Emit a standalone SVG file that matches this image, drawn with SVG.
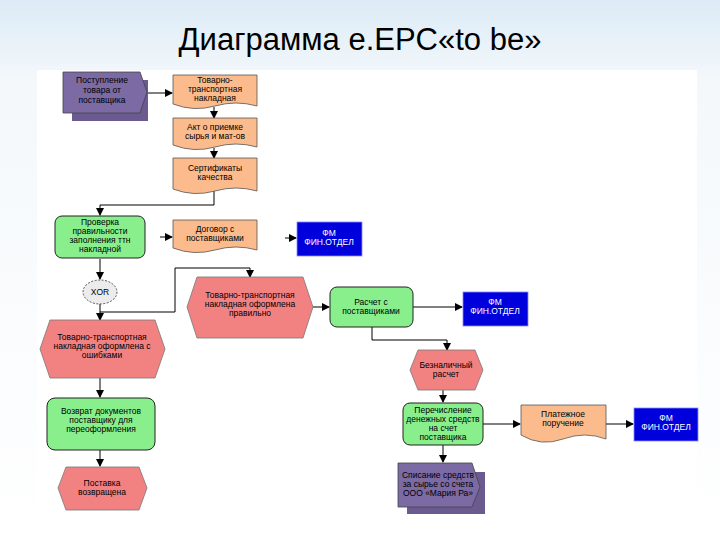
<svg xmlns="http://www.w3.org/2000/svg" width="720" height="540" viewBox="0 0 720 540">
<defs>
<linearGradient id="bg" x1="0" y1="0" x2="0" y2="1"><stop offset="0" stop-color="#dcebf6"/><stop offset="0.15" stop-color="#f4f8fb"/><stop offset="1" stop-color="#ffffff"/></linearGradient>
<marker id="ah" markerWidth="8" markerHeight="8" refX="7" refY="4" orient="auto" markerUnits="userSpaceOnUse"><path d="M0,0 L8,4 L0,8 z" fill="#000"/></marker>
<style>
text{font-family:"Liberation Sans",Arial,sans-serif;font-size:8.5px;text-anchor:middle;fill:#000}
.t{font-size:31px;fill:#000;font-family:"Liberation Sans",Arial,sans-serif}
.doc{fill:#fbbb8c;stroke:#555;stroke-width:0.8}
.fn{fill:#88ef8c;stroke:#222;stroke-width:1}
.ev{fill:#f28282;stroke:#777;stroke-width:0.8}
.org{fill:#0000dd;stroke:#8888ff;stroke-width:0.8}
.org+text,.w{fill:#fff}
.pi{fill:#7b6aa3;stroke:#444;stroke-width:0.8}
.sh{fill:#6a5a90}
.c{fill:none;stroke:#000;stroke-width:1;marker-end:url(#ah)}
.xor{fill:#ececec;stroke:#555;stroke-dasharray:2 1.5}
</style>
</defs>
<rect width="720" height="540" fill="url(#bg)"/>
<rect x="37" y="70" width="660" height="460" fill="#fff"/>
<text class="t" x="360" y="50">Диаграмма e.EPC«to be»</text>
<g id="connectors">
<path class="c" d="M147,93 H172"/>
<path class="c" d="M214,107 V118"/>
<path class="c" d="M214,148 V158"/>
<path class="c" d="M214,190 V205 H100 V215"/>
<path class="c" d="M160,237 H172"/>
<path class="c" d="M285,238 H296"/>
<path class="c" d="M100,259 V279"/>
<path class="c" d="M100,304 V320"/>
<path class="c" d="M100,312 H175 V268 H250 V277"/>
<path class="c" d="M313,307 H329"/>
<path class="c" d="M413,307 H462"/>
<path class="c" d="M372,327 V340 H447 V350"/>
<path class="c" d="M443,390 V402"/>
<path class="c" d="M483,424 H520"/>
<path class="c" d="M606,424 H633"/>
<path class="c" d="M443,445 V462"/>
<path class="c" d="M100,378 V397"/>
<path class="c" d="M100,450 V466"/>
</g>
<g id="n1"><rect class="sh" x="72" y="80" width="76" height="41"/><path class="pi" d="M63,72 H140 L147,92 L140,113 H63 Z"/><text x="102" y="83">Поступление</text><text x="102" y="93">товара от</text><text x="102" y="103">поставщика</text></g>
<g id="n2"><path class="doc" d="M173,75 H257 V106 Q236,100 215,106 T173,104 Z"/><text x="215" y="83">Товарно-</text><text x="215" y="92">транспортная</text><text x="215" y="101">накладная</text></g>
<g id="n3"><path class="doc" d="M173,118 H257 V147 Q236,141 215,147 T173,145 Z"/><text x="215" y="130">Акт о приемке</text><text x="215" y="139">сырья и мат-ов</text></g>
<g id="n4"><path class="doc" d="M173,158 H257 V191 Q236,185 215,191 T173,189 Z"/><text x="215" y="171">Сертификаты</text><text x="215" y="180">качества</text></g>
<g id="n5"><rect class="fn" x="55" y="216" width="90" height="42" rx="7"/><text x="100" y="225">Проверка</text><text x="100" y="234">правильности</text><text x="100" y="243">заполнения ттн</text><text x="100" y="252">накладной</text></g>
<g id="n6"><path class="doc" d="M173,220 H257 V250 Q236,244 215,250 T173,248 Z"/><text x="215" y="232">Договор с</text><text x="215" y="241">поставщиками</text></g>
<g id="n7"><rect class="org" x="297" y="222" width="65" height="34"/><text class="w" x="329" y="236">ФМ</text><text class="w" x="329" y="245">ФИН.ОТДЕЛ</text></g>
<g id="n8"><ellipse class="xor" cx="100" cy="292" rx="17" ry="12"/><text x="100" y="295">XOR</text></g>
<g id="n9"><path class="ev" d="M197,277 H303 L313,307 L303,338 H197 L187,307 Z"/><text x="250" y="298">Товарно-транспортная</text><text x="250" y="307">накладная оформлена</text><text x="250" y="316">правильно</text></g>
<g id="n10"><rect class="fn" x="330" y="287" width="83" height="40" rx="7"/><text x="371" y="305">Расчет с</text><text x="371" y="314">поставщиками</text></g>
<g id="n11"><rect class="org" x="463" y="292" width="65" height="34"/><text class="w" x="495" y="305">ФМ</text><text class="w" x="495" y="314">ФИН.ОТДЕЛ</text></g>
<g id="n12"><path class="ev" d="M50,320 H155 L165,349 L155,378 H50 L40,349 Z"/><text x="102" y="340">Товарно-транспортная</text><text x="102" y="349">накладная оформлена с</text><text x="102" y="358">ошибками</text></g>
<g id="n13"><path class="ev" d="M418,350 H475 L483,370 L475,390 H418 L410,370 Z"/><text x="446" y="368">Безналичный</text><text x="446" y="377">расчет</text></g>
<g id="n14"><rect class="fn" x="47" y="398" width="108" height="52" rx="8"/><text x="101" y="414">Возврат документов</text><text x="101" y="423">поставщику для</text><text x="101" y="432">переоформления</text></g>
<g id="n15"><path class="ev" d="M66,467 H139 L147,488 L139,510 H66 L58,488 Z"/><text x="102" y="486">Поставка</text><text x="102" y="495">возвращена</text></g>
<g id="n16"><rect class="fn" x="403" y="403" width="80" height="42" rx="7"/><text x="443" y="413">Перечисление</text><text x="443" y="422">денежных средств</text><text x="443" y="431">на счет</text><text x="443" y="440">поставщика</text></g>
<g id="n17"><path class="doc" d="M521,405 H606 V439 Q585,431 563,439 T521,435 Z"/><text x="563" y="417">Платежное</text><text x="563" y="426">поручение</text></g>
<g id="n18"><rect class="org" x="634" y="408" width="64" height="33"/><text class="w" x="666" y="421">ФМ</text><text class="w" x="666" y="430">ФИН.ОТДЕЛ</text></g>
<g id="n19"><rect class="sh" x="407" y="472" width="78" height="42"/><path class="pi" d="M398,463 H472 L480,487 L472,507 H398 Z"/><text x="438" y="478">Списание средств</text><text x="438" y="487">за сырье со счета</text><text x="438" y="496">ООО «Мария Ра»</text></g>
</svg>
